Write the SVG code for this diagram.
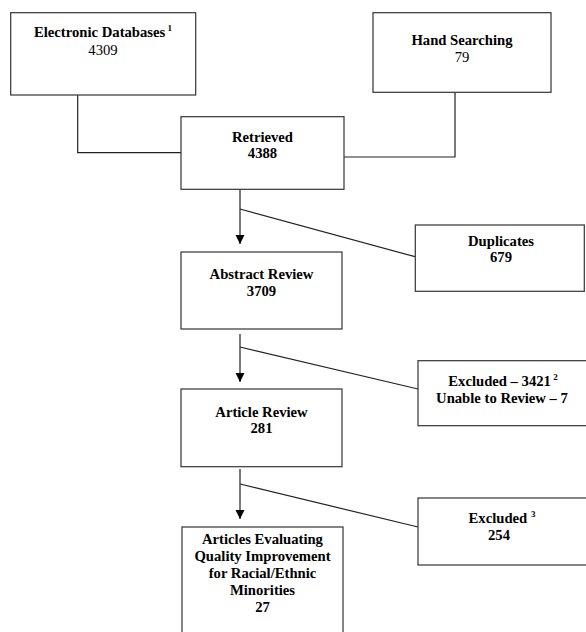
<svg xmlns="http://www.w3.org/2000/svg" width="586" height="632" viewBox="0 0 586 632">
<style>
  .box { fill: #fff; stroke: #333; stroke-width: 1.2; }
  .t { font-family: "Liberation Serif", "Times New Roman", serif; font-size: 14.67px; text-anchor: middle; fill: #000; }
  .b { font-weight: bold; }
  .sup { font-size: 9px; font-weight: bold; }
  .ln { fill: none; stroke: #222; stroke-width: 1.2; }
</style>
<defs>
  <marker id="arr" markerUnits="userSpaceOnUse" markerWidth="10" markerHeight="10" refX="9" refY="4.5" orient="auto">
    <path d="M0,0 L9,4.5 L0,9 z" fill="#000"/>
  </marker>
</defs>
<rect width="586" height="632" fill="#fff"/>
<g id="connectors">
  <path class="ln" d="M77.7 95 V152.7 H181"/>
  <path class="ln" d="M455 92.3 V157 H344"/>
  <path class="ln" d="M240 189.3 V244" marker-end="url(#arr)"/>
  <path class="ln" d="M240 209 L415 256.7"/>
  <path class="ln" d="M240 334 V382" marker-end="url(#arr)"/>
  <path class="ln" d="M240 347 L418 389"/>
  <path class="ln" d="M240 469 V519" marker-end="url(#arr)"/>
  <path class="ln" d="M240 484 L418 527"/>
</g>
<g id="electronic">
  <rect class="box" x="10.7" y="12.7" width="185" height="82.3"/>
  <text class="t b" x="103" y="37.3">Electronic Databases<tspan class="sup" dy="-6"> 1</tspan></text>
  <text class="t" x="103" y="55">4309</text>
</g>
<g id="hand">
  <rect class="box" x="373" y="12.7" width="178" height="79.6"/>
  <text class="t b" x="462" y="45">Hand Searching</text>
  <text class="t" x="462" y="62">79</text>
</g>
<g id="retrieved">
  <rect class="box" x="181" y="116.7" width="163" height="72.6"/>
  <text class="t b" x="262.5" y="141.7">Retrieved</text>
  <text class="t b" x="262.5" y="158.3">4388</text>
</g>
<g id="duplicates">
  <rect class="box" x="415.3" y="225" width="169" height="66.3"/>
  <text class="t b" x="501" y="246">Duplicates</text>
  <text class="t b" x="501" y="262">679</text>
</g>
<g id="abstract">
  <rect class="box" x="181" y="252" width="161" height="77"/>
  <text class="t b" x="261.5" y="279.3">Abstract Review</text>
  <text class="t b" x="261.5" y="295.5">3709</text>
</g>
<g id="excluded1">
  <rect class="box" x="418" y="360.7" width="172" height="65"/>
  <text class="t b" x="503" y="386">Excluded – 3421<tspan class="sup" dy="-6"> 2</tspan></text>
  <text class="t b" x="502" y="402.7">Unable to Review – 7</text>
</g>
<g id="article">
  <rect class="box" x="181" y="389" width="161" height="77.7"/>
  <text class="t b" x="261.5" y="417">Article Review</text>
  <text class="t b" x="261.5" y="433.3">281</text>
</g>
<g id="excluded2">
  <rect class="box" x="418" y="498" width="172" height="67"/>
  <text class="t b" x="502" y="523">Excluded <tspan class="sup" dy="-6"> 3</tspan></text>
  <text class="t b" x="499" y="540">254</text>
</g>
<g id="final">
  <rect class="box" x="182" y="527" width="161" height="120"/>
  <text class="t b" x="262.5" y="544">Articles Evaluating</text>
  <text class="t b" x="262.5" y="561">Quality Improvement</text>
  <text class="t b" x="262.5" y="578">for Racial/Ethnic</text>
  <text class="t b" x="262.5" y="595">Minorities</text>
  <text class="t b" x="262.5" y="612">27</text>
</g>
</svg>
